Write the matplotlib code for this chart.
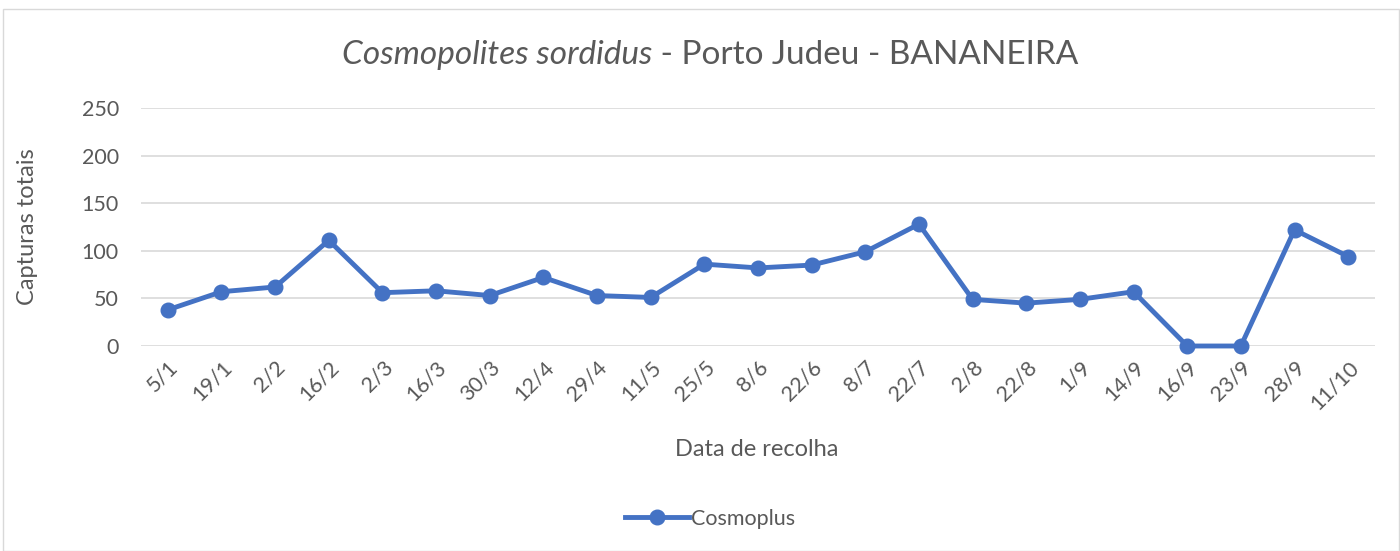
import matplotlib
matplotlib.use("Agg")
import matplotlib.pyplot as plt
from matplotlib.lines import Line2D
from matplotlib.patches import Rectangle

dates = ["5/1", "19/1", "2/2", "16/2", "2/3", "16/3", "30/3", "12/4", "29/4", "11/5",
         "25/5", "8/6", "22/6", "8/7", "22/7", "2/8", "22/8", "1/9", "14/9", "16/9",
         "23/9", "28/9", "11/10"]
capturas = [38, 57, 62, 111, 56, 58, 53, 72, 53, 51,
            86, 82, 85, 99, 128, 49, 45, 49, 57, 0,
            0, 122, 94]
yticks = [0, 50, 100, 150, 200, 250]
series_name = "Cosmoplus"

FONT = ["Lato", "DejaVu Sans"]
TXT = "#595959"
BLUE = "#4472C4"

fig = plt.figure(figsize=(14, 5.51), dpi=100)
fig.patches.append(Rectangle((3/1400, 0), 1 - 3/1400 - 0.001, 1 - 9/551, transform=fig.transFigure,
                             fill=False, edgecolor="#d9d9d9", linewidth=1))
ax = fig.add_axes([141/1400, 1 - 346/551, (1375 - 141)/1400, (346 - 108)/551])

x = list(range(len(dates)))
ax.plot(x, capturas, color=BLUE, linewidth=3.5, marker="o", markersize=10.5, label=series_name,
        solid_capstyle="round", clip_on=False, zorder=3)
ax.set_xlim(-0.5, len(dates) - 0.5)
ax.set_ylim(0, 250)
ax.set_yticks(yticks)
ax.set_yticklabels([str(v) for v in yticks], fontsize=15.5, color=TXT, family=FONT)
ax.set_xticks(x)
ax.set_xticklabels(dates, rotation=45, ha="right", rotation_mode="anchor", fontsize=15.5, color=TXT, family=FONT)
ax.grid(axis="y", color="#d9d9d9", linewidth=1.2)
ax.set_axisbelow(True)
for s in ax.spines.values():
    s.set_visible(False)
ax.tick_params(axis="y", length=0, pad=16)
ax.tick_params(axis="x", length=0, pad=8)

fig.text(28/1400, 1 - 227/551, "Capturas totais", fontsize=17, color=TXT, family=FONT,
         ha="center", va="center", rotation=90)
fig.text(757/1400, 1 - 449/551, "Data de recolha", fontsize=17, color=TXT, family=FONT,
         ha="center", va="center")

t1 = fig.text(0, 0, "Cosmopolites sordidus", fontsize=24, color=TXT, family=FONT, style="italic")
t2 = fig.text(0, 0, " - Porto Judeu - BANANEIRA", fontsize=24, color=TXT, family=FONT)
fig.canvas.draw()
r = fig.canvas.get_renderer()
w1 = t1.get_window_extent(r).width
w2 = t2.get_window_extent(r).width
start = 710 - (w1 + w2) / 2
yc = 1 - 55/551
t1.set_position((start/1400, yc)); t1.set_va("center")
t2.set_position(((start + w1)/1400, yc)); t2.set_va("center")

h = Line2D([], [], color=BLUE, linewidth=3.5, marker="o", markersize=10.5)
fig.legend([h], [series_name], loc="center", bbox_to_anchor=(710/1400, 1 - 519/551), frameon=False,
           prop={"family": FONT, "size": 15.5}, labelcolor=TXT, handlelength=3, handletextpad=0.1)

fig.savefig("out.png", dpi=100, facecolor="white")
